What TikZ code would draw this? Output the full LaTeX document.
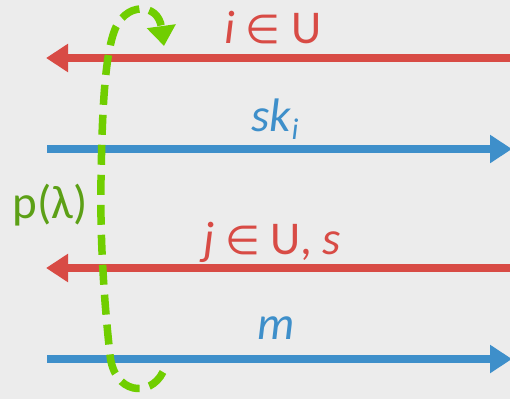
\documentclass[tikz,border=0pt]{standalone}
\usepackage{fontspec}
\setmainfont{Carlito}
\newfontfamily\symfnt{DejaVu Sans}
\usetikzlibrary{positioning,arrows.meta,calc}
\definecolor{msgred}{RGB}{216,75,69}
\definecolor{msgblue}{RGB}{62,143,202}
\definecolor{loopgreen}{RGB}{112,206,0}
\definecolor{labgreen}{RGB}{92,160,22}
\definecolor{paper}{RGB}{236,236,236}
\newcommand{\elt}{{\symfnt\fontsize{40}{40}\selectfont ∈}}
\tikzset{
  msg/.style={line width=8pt, -{Triangle[length=22pt,width=27pt]}},
  lab/.style={font=\fontsize{47}{47}\selectfont, inner sep=0pt},
  loopline/.style={loopgreen, line width=7.5pt, dash pattern=on 20pt off 10pt, -{Triangle[length=20pt,width=28pt]}}
}

\begin{document}
\begin{tikzpicture}[x=1pt,y=-1pt]
        \fill[paper] (0,0) rectangle (510,399);
        \useasboundingbox (0,0) rectangle (510,399);
        % message lines
        \coordinate (r1a) at (510,58);  \coordinate (r1b) at (46,58);
        \coordinate (b1a) at (47,149);  \coordinate (b1b) at (512,149);
        \coordinate (r2a) at (510,268); \coordinate (r2b) at (46,268);
        \coordinate (b2a) at (47,359);  \coordinate (b2b) at (512,359);
        \draw[msg, msgred] (r1a) -- (r1b);
        \draw[msg, msgblue] (b1a) -- (b1b);
        \draw[msg, msgred] (r2a) -- (r2b);
        \draw[msg, msgblue] (b2a) -- (b2b);
        % labels
        \node[lab, msgred] (lid) at (273,28) {\textit{i} \elt{} U};
        \node[lab, msgblue] (lsk) at (275,119) {\textit{sk}\raisebox{-0.17em}{\fontsize{30}{30}\selectfont\textit{i}}};
        \node[lab, msgred] (ljs) at (272,242) {\textit{j} \elt{} U, \textit{s}};
        \node[lab, msgblue] (lm) at (276,328) {\textit{m}};
        \node[lab, labgreen] (lp) at (50,205) {p(λ)};
        % leakage loop
        \coordinate (ls) at (163,372);
        \coordinate (le) at (164,46);
        \draw[loopline] (ls) .. controls (150,398) and (114,394) .. (110,355)
          .. controls (104,300) and (100,240) .. (101,180)
          .. controls (102,120) and (104,60) .. (114,32)
          .. controls (124,2) and (158,2) .. (le);
      \end{tikzpicture}
\end{document}
